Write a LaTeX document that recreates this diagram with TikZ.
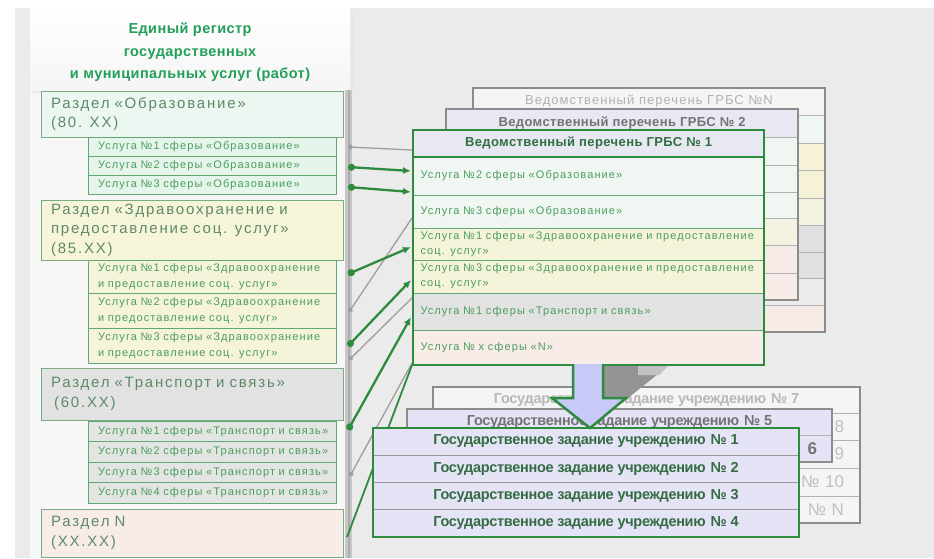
\documentclass[tikz,border=0pt]{standalone}
\usepackage{fontspec}
\setmainfont{Liberation Sans}
\newfontfamily\lsA[LetterSpace=10]{Liberation Sans}
\newfontfamily\lsS[LetterSpace=12]{Liberation Sans}
\newfontfamily\lsB[LetterSpace=3]{Liberation Sans}
\newfontfamily\lsN[LetterSpace=-2]{Liberation Sans}
\newfontfamily\lsC[LetterSpace=8]{Liberation Sans}
\usetikzlibrary{arrows.meta}
\definecolor{bg}{HTML}{EBEBEB}
\definecolor{secline}{HTML}{7AAB84}
\definecolor{gborder}{HTML}{62A872}
\definecolor{gdark}{HTML}{2E8B3E}
\definecolor{titlegreen}{HTML}{22A05A}
\definecolor{sectext}{HTML}{5E8A68}
\definecolor{subtext}{HTML}{4A9E5C}
\definecolor{mint}{HTML}{EDF7F1}
\definecolor{mintsub}{HTML}{E6F5EC}
\definecolor{yel}{HTML}{F7F5D9}
\definecolor{yelsub}{HTML}{F5F4DA}
\definecolor{grey1}{HTML}{E2E2E2}
\definecolor{greysub}{HTML}{E3E5E3}
\definecolor{pinkc}{HTML}{F8ECE8}
\definecolor{lav}{HTML}{E4E4F6}
\definecolor{lavhead}{HTML}{E8E8F2}
\definecolor{boxgray}{HTML}{8C8C8C}
\definecolor{arrowfill}{HTML}{C9C9F7}
\definecolor{govtext}{HTML}{356B43}
\definecolor{hdrtext}{HTML}{2F6F40}
\definecolor{nmint}{HTML}{F0F6F2}
\definecolor{nyel}{HTML}{F6F2D8}
\definecolor{nyel2}{HTML}{F4F3E2}
\definecolor{ngrey}{HTML}{E0E0E0}
\definecolor{ngrey2}{HTML}{EBEBEB}
\definecolor{npink}{HTML}{F7EBE7}
\begin{document}
\begin{tikzpicture}[x=1pt,y=-1pt,
  secbox/.style={draw=secline, line width=0.9pt, anchor=north west, outer sep=0pt,
    inner xsep=10pt, inner ysep=0pt, align=left, text=sectext,
    font=\lsS\fontsize{15}{19.5}\selectfont, minimum width=302pt, text width=282pt},
  subbox/.style={draw=gborder, line width=0.8pt, anchor=north west, outer sep=0pt,
    inner xsep=10pt, inner ysep=0pt, align=left, text=subtext,
    font=\lsA\fontsize{11}{16.5}\selectfont, minimum width=248pt, text width=228pt},
  frow/.style={draw=gborder, line width=0.8pt, anchor=north west, outer sep=0pt,
    inner xsep=7.5pt, inner ysep=0pt, align=left, text=subtext,
    font=\lsA\fontsize{11}{15}\selectfont, minimum width=351pt, text width=336pt},
  backrow/.style={draw=black!30, line width=0.8pt, anchor=north west, outer sep=0pt,
    inner sep=0pt, minimum width=#1},
  hdr/.style={draw=black!30, line width=0.8pt, anchor=north west, outer sep=0pt,
    inner sep=0pt, align=center},
  qrow/.style={draw=black!30, line width=0.8pt, anchor=north west, outer sep=0pt,
    inner xsep=16pt, inner ysep=0pt, fill=white!96!black, minimum width=427pt,
    text width=395pt, align=right, text=black!25, font=\fontsize{17}{18}\selectfont},
  govrow/.style={draw=black!40, line width=0.8pt, anchor=north west, outer sep=0pt,
    inner sep=0pt, fill=lav, minimum width=426pt, text=govtext,
    font=\lsN\bfseries\fontsize{14.5}{16}\selectfont},
  gconn/.style={gdark, line width=2.3pt, {Circle[length=7pt]}-{Latex[length=8pt,width=7pt]}},
  grconn/.style={black!38, line width=1.3pt, {Circle[length=5pt]}-},
]
\useasboundingbox (0,0) rectangle (934,558);
\fill[white] (0,0) rectangle (934,558);
\fill[bg] (15,8) rectangle (934,558);
% left panel
\fill[white!97!black] (30,90) rectangle (348,558);
\fill[black!9] (33,11) rectangle (354,93);
\shade[top color=white, bottom color=black!4] (30,8) rectangle (350,90);
\node[align=center, text=titlegreen, inner sep=0pt,
  font=\lsB\bfseries\fontsize{14.5}{22.5}\selectfont] (title) at (190,52.5)
  {Единый регистр\\государственных\\и муниципальных услуг (работ)};
\fill[black!22] (345,90) rectangle (352,558);
\draw[black!33, line width=2pt] (348.5,90) -- (348.5,558);

% sections
\node[secbox, fill=mint, minimum height=46pt] (s1) at (41,91) {Раздел «Образование»\\(80. XX)};
\node[subbox, fill=mintsub, minimum height=19pt] (e1) at (88,137) {Услуга №1 сферы «Образование»};
\node[subbox, fill=mintsub, minimum height=19pt] (e2) at (88,156) {Услуга №2 сферы «Образование»};
\node[subbox, fill=mintsub, minimum height=19pt] (e3) at (88,175) {Услуга №3 сферы «Образование»};

\node[secbox, fill=yel, minimum height=60pt] (s2) at (41,200) {Раздел «Здравоохранение и\\предоставление соц. услуг»\\(85.XX)};
\node[subbox, fill=yelsub, minimum height=33pt] (h1) at (88,260) {Услуга №1 сферы «Здравоохранение\\и предоставление соц. услуг»};
\node[subbox, fill=yelsub, minimum height=35pt] (h2) at (88,293) {Услуга №2 сферы «Здравоохранение\\и предоставление соц. услуг»};
\node[subbox, fill=yelsub, minimum height=35pt] (h3) at (88,328) {Услуга №3 сферы «Здравоохранение\\и предоставление соц. услуг»};

\node[secbox, fill=grey1, minimum height=52pt] (s3) at (41,368) {Раздел «Транспорт и связь»\\\hspace*{3pt}(60.XX)};
\node[subbox, fill=greysub, minimum height=20.5pt] (t1) at (88,421) {Услуга №1 сферы «Транспорт и связь»};
\node[subbox, fill=greysub, minimum height=20.5pt] (t2) at (88,441.5) {Услуга №2 сферы «Транспорт и связь»};
\node[subbox, fill=greysub, minimum height=20.5pt] (t3) at (88,462) {Услуга №3 сферы «Транспорт и связь»};
\node[subbox, fill=greysub, minimum height=20.5pt] (t4) at (88,482.5) {Услуга №4 сферы «Транспорт и связь»};

\node[secbox, fill=pinkc, minimum height=48pt] (s4) at (41,509) {Раздел N\\(XX.XX)};

% GRBS N (back)
\node[hdr, fill=white!96!black, minimum width=352pt, minimum height=27pt, text=black!30,
  font=\lsC\fontsize{13}{15}\selectfont] (gNh) at (473,88) {Ведомственный перечень ГРБС №N};
\foreach \i/\ya/\h/\c in {1/115/28/nmint,2/143/27/nyel,3/170/28/nyel,4/198/27/nyel2,
  5/225/27/ngrey,6/252/26/ngrey,7/278/27/ngrey2,8/305/27/npink}
  \node[backrow=352pt, fill=\c, minimum height=\h pt] (gN\i) at (473,\ya) {};
\draw[boxgray, line width=2pt] (gNh.north west) rectangle (gN8.south east);

% GRBS 2 (middle)
\node[hdr, fill=lavhead, minimum width=352pt, minimum height=28pt, text=black!55,
  font=\lsB\bfseries\fontsize{13}{15}\selectfont] (g2h) at (446,109) {Ведомственный перечень ГРБС № 2};
\foreach \i/\ya/\h/\c in {1/137/28/nmint,2/165/27/nmint,3/192/26/nmint,4/218/27/nyel2,
  5/245/28/npink,6/273/27/npink}
  \node[backrow=352pt, fill=\c, minimum height=\h pt] (g2\i) at (446,\ya) {};
\draw[boxgray, line width=2pt] (g2h.north west) rectangle (g26.south east);

% Gov 7 (back)
\node[hdr, fill=white!96!black, minimum width=427pt, minimum height=26pt, text=black!28,
  font=\lsN\bfseries\fontsize{14.5}{16}\selectfont] (q7) at (433,387) {Государственное задание учреждению\hspace{5pt}№ 7};
\node[qrow, minimum height=27pt] (q8) at (433,413) {8};
\node[qrow, minimum height=28pt] (q9) at (433,440) {9};
\node[qrow, minimum height=28pt] (q10) at (433,468) {№ 10};
\node[qrow, minimum height=27pt] (qN) at (433,496) {№ N};
\draw[boxgray, line width=2pt] (q7.north west) rectangle (qN.south east);

% Gov 5 (middle)
\node[hdr, fill=lav, minimum width=425pt, minimum height=26pt, text=black!55,
  font=\lsN\bfseries\fontsize{14.5}{16}\selectfont] (p5) at (407,409) {Государственное задание учреждению\hspace{5pt}№ 5};
\node[hdr, fill=lav, minimum width=425pt, minimum height=27pt, inner xsep=15pt, text width=395pt, align=right,
  text=black!55, font=\bfseries\fontsize{17}{18}\selectfont] (p6) at (407,435) {6};
\draw[boxgray, line width=2pt] (p5.north west) rectangle (p6.south east);

% shadow of the big arrow
\fill[black!42] (603,366) -- (668,366) -- (628,398) -- (603,398) -- cycle;
\fill[black!24] (638,366) -- (668,366) -- (659,375) -- (638,375) -- cycle;

% connectors
\coordinate (a1) at (348,147); \coordinate (b1) at (412,150);
\coordinate (a2) at (348,167); \coordinate (b2) at (411,171);
\coordinate (a3) at (348,187); \coordinate (b3) at (411,192);
\coordinate (a4) at (348,274); \coordinate (b4) at (411,247);
\coordinate (a5) at (349,312); \coordinate (b5) at (412,218);
\coordinate (a6) at (348,346); \coordinate (b6) at (411,280);
\coordinate (a7) at (349,360); \coordinate (b7) at (412,298);
\coordinate (a8) at (348,430); \coordinate (b8) at (411,317);
\coordinate (a9) at (350,476); \coordinate (b9) at (412,363);
\coordinate (a10) at (347,537); \coordinate (b10) at (412,365);
\draw[grconn] (a1) -- (b1);
\draw[grconn] (a5) -- (b5);
\draw[grconn] (a7) -- (b7);
\draw[grconn] (a9) -- (b9);
\draw[gdark, line width=1.8pt] (a10) -- (b10);
\draw[gconn] (a2) -- (b2);
\draw[gconn] (a3) -- (b3);
\draw[gconn] (a4) -- (b4);
\draw[gconn] (a6) -- (b6);
\draw[gconn] (a8) -- (b8);

% GRBS 1 (front)
\node[hdr, draw=gborder, fill=lavhead, minimum width=351pt, minimum height=27pt, text=hdrtext,
  font=\lsB\bfseries\fontsize{13}{15}\selectfont] (fh) at (413,130) {Ведомственный перечень ГРБС № 1};
\node[frow, fill=nmint, minimum height=38pt] (f1) at (413,157) {Услуга №2 сферы «Образование»};
\node[frow, fill=nmint, minimum height=33pt] (f2) at (413,195) {Услуга №3 сферы «Образование»};
\node[frow, fill=yelsub, minimum height=32pt] (f3) at (413,228) {Услуга №1 сферы «Здравоохранение и предоставление\\соц. услуг»};
\node[frow, fill=yelsub, minimum height=33pt] (f4) at (413,260) {Услуга №3 сферы «Здравоохранение и предоставление\\соц. услуг»};
\node[frow, fill=grey1, minimum height=37pt] (f5) at (413,293) {Услуга №1 сферы «Транспорт и связь»};
\node[frow, fill=pinkc, minimum height=35pt] (f6) at (413,330) {Услуга № x сферы «N»};
\draw[gdark, line width=2.6pt] (fh.north west) rectangle (f6.south east);
\draw[gdark, line width=2.2pt] (fh.south west) -- (fh.south east);

% Gov front
\node[govrow, minimum height=27pt] (d1) at (373,428) {Государственное задание учреждению\hspace{5pt}№ 1};
\node[govrow, minimum height=27pt] (d2) at (373,455) {Государственное задание учреждению\hspace{5pt}№ 2};
\node[govrow, minimum height=27pt] (d3) at (373,482) {Государственное задание учреждению\hspace{5pt}№ 3};
\node[govrow, minimum height=28pt] (d4) at (373,509) {Государственное задание учреждению\hspace{5pt}№ 4};
\draw[gdark, line width=2.6pt] (d1.north west) rectangle (d4.south east);

% big arrow
\fill[arrowfill] (573,364) -- (573,398) -- (552,398) -- (590,428) -- (626,398) -- (603,398) -- (603,364) -- cycle;
\draw[gdark, line width=2.5pt, line join=miter] (573,364) -- (573,398) -- (552,398) -- (590,428) -- (626,398) -- (603,398) -- (603,364);
\end{tikzpicture}
\end{document}
